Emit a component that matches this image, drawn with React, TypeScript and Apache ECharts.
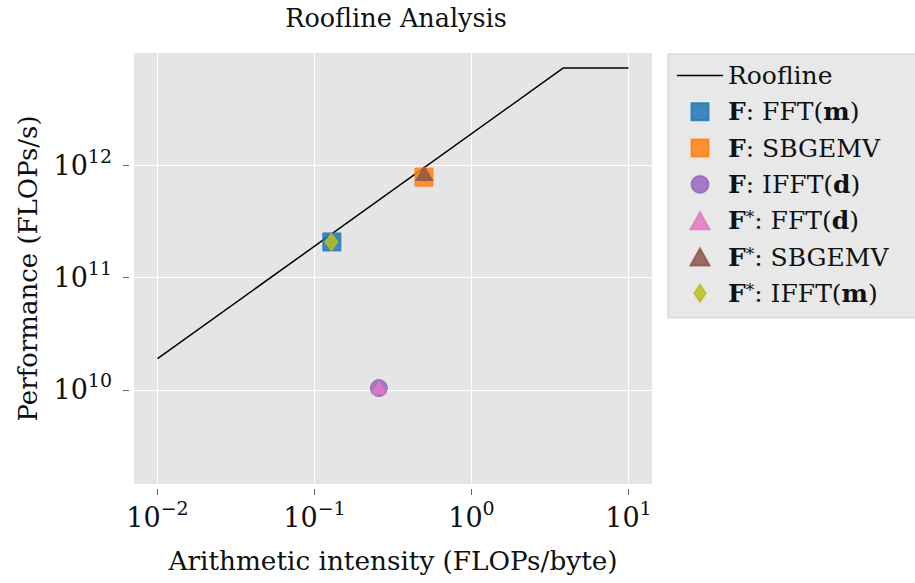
import React, { useEffect, useRef } from "react";
import * as echarts from "echarts";

const FONT = "DejaVu Serif";

const rooflineX = [0.01, 3.85, 10];
const rooflineY = [1.9e10, 7.3e12, 7.3e12];

const seriesNames = [
  "F: FFT(m)",
  "F: SBGEMV",
  "F: IFFT(d)",
  "F*: FFT(d)",
  "F*: SBGEMV",
  "F*: IFFT(m)",
];
const seriesX = [0.129, 0.498, 0.257, 0.257, 0.5, 0.128];
const seriesY = [2.07e11, 7.8e11, 1.04e10, 1.05e10, 8.4e11, 2.07e11];
const seriesColors = ["#1f77b4", "#ff7f0e", "#9467bd", "#e377c2", "#8c564b", "#bcbd22"];
const seriesSymbols = ["rect", "rect", "circle", "triangle", "triangle", "diamond"];
const seriesSizes: any[] = [18, 18, 17, [14, 13], [17, 14], [13, 18]];

const xTicks = [0.01, 0.1, 1, 10];
const yTicks = [1e10, 1e11, 1e12];

const legendRich: Record<string, string> = {
  Roofline: "Roofline",
  "F: FFT(m)": "{b|F}: FFT({b|m})",
  "F: SBGEMV": "{b|F}: SBGEMV",
  "F: IFFT(d)": "{b|F}: IFFT({b|d})",
  "F*: FFT(d)": "{b|F}{sup|*}: FFT({b|d})",
  "F*: SBGEMV": "{b|F}{sup|*}: SBGEMV",
  "F*: IFFT(m)": "{b|F}{sup|*}: IFFT({b|m})",
};

const ICON_SQUARE = "path://M0,0 L10,0 L10,10 L0,10 Z";
const ICON_CIRCLE = "path://M5,0 A5,5 0 1,1 5,10 A5,5 0 1,1 5,0 Z";
const ICON_TRIANGLE = "path://M5,0 L10,9 L0,9 Z";
const ICON_DIAMOND = "path://M4,0 L8,6 L4,12 L0,6 Z";
const ICON_LINE = "path://M0,0 L46,0 L46,1.5 L0,1.5 Z";
const legendIcons = [ICON_SQUARE, ICON_SQUARE, ICON_CIRCLE, ICON_TRIANGLE, ICON_TRIANGLE, ICON_DIAMOND];

function expLabel(v: number) {
  const e = Math.round(Math.log10(v));
  const s = e < 0 ? "\u2212" + Math.abs(e) : String(e);
  return "{b|10}{s|" + s + "}";
}

const tickRich = {
  b: { fontFamily: FONT, fontSize: 27, lineHeight: 38, verticalAlign: "middle", color: "#111" },
  s: { fontFamily: FONT, fontSize: 19, lineHeight: 20, verticalAlign: "top", color: "#111" },
};

export default function App() {
  const ref = useRef<HTMLDivElement>(null);
  useEffect(() => {
    if (!ref.current) return;
    const chart = echarts.init(ref.current, null, { renderer: "svg" });
    const scatter = seriesNames.map((name, i) => ({
      name,
      type: "scatter",
      data: [[seriesX[i], seriesY[i]]],
      symbol: seriesSymbols[i],
      symbolSize: seriesSizes[i],
      itemStyle: {
        color: seriesColors[i],
        opacity: 0.85,
        borderColor: seriesColors[i],
        borderWidth: 1,
      },
      z: 3 + i,
    }));
    chart.setOption({
      animation: false,
      title: {
        text: "Roofline Analysis",
        left: 391,
        top: 0,
        textAlign: "center",
        textStyle: { fontFamily: FONT, fontSize: 25.5, fontWeight: "normal", color: "#111" },
      },
      grid: {
        left: 134,
        right: 263,
        top: 53,
        bottom: 99,
        show: true,
        backgroundColor: "#e5e5e5",
        borderWidth: 0,
      },
      legend: {
        orient: "vertical",
        left: 668,
        top: 54,
        padding: [9, 30, 12, 9],
        itemGap: 11.3,
        itemWidth: 46,
        itemHeight: 17,
        symbolKeepAspect: true,
        backgroundColor: "#e8e8e8",
        borderColor: "#cfcfcf",
        borderWidth: 1,
        data: [
          { name: "Roofline", icon: ICON_LINE },
          ...seriesNames.map((n, i) => ({ name: n, icon: legendIcons[i] })),
        ],
        formatter: (n: string) => legendRich[n] || n,
        textStyle: {
          fontFamily: FONT,
          fontSize: 25,
          lineHeight: 24,
          color: "#111",
          rich: {
            b: { fontFamily: FONT, fontSize: 25, lineHeight: 24, fontWeight: "bold", color: "#111" },
            sup: { fontFamily: FONT, fontSize: 17, lineHeight: 12, verticalAlign: "top", color: "#111" },
          },
        },
      },
      xAxis: {
        type: "log",
        logBase: 10,
        min: Math.pow(10, -2.15),
        max: Math.pow(10, 1.15),
        offset: 5,
        name: "Arithmetic intensity (FLOPs/byte)",
        nameLocation: "middle",
        nameGap: 59,
        nameTextStyle: { fontFamily: FONT, fontSize: 26.3, color: "#111" },
        axisLine: { show: false },
        axisTick: { show: true, length: 6, customValues: xTicks, lineStyle: { color: "#666" } },
        axisLabel: {
          customValues: xTicks,
          margin: 9,
          formatter: (v: number) => expLabel(v),
          rich: tickRich,
        },
        splitLine: { show: true, lineStyle: { color: "#ffffff", width: 1 } },
        minorTick: { show: false },
      },
      yAxis: {
        type: "log",
        logBase: 10,
        min: Math.pow(10, 9.164),
        max: Math.pow(10, 12.996),
        offset: 5,
        name: "Performance (FLOPs/s)",
        nameLocation: "middle",
        nameGap: 88,
        nameTextStyle: { fontFamily: FONT, fontSize: 26, color: "#111" },
        axisLine: { show: false },
        axisTick: { show: true, length: 6, customValues: yTicks, lineStyle: { color: "#666" } },
        axisLabel: {
          customValues: yTicks,
          margin: 17,
          formatter: (v: number) => expLabel(v),
          rich: tickRich,
        },
        splitLine: { show: true, lineStyle: { color: "#ffffff", width: 1 } },
      },
      series: [
        {
          name: "Roofline",
          type: "line",
          symbol: "none",
          data: rooflineX.map((x, i) => [x, rooflineY[i]]),
          lineStyle: { color: "#000", width: 1.5 },
          itemStyle: { color: "#000" },
          z: 2,
        },
        ...scatter,
      ],
    });
    return () => chart.dispose();
  }, []);
  return (
    <div
      ref={ref}
      style={{ position: "absolute", left: 0, top: 0, width: 915, height: 583 }}
    />
  );
}
